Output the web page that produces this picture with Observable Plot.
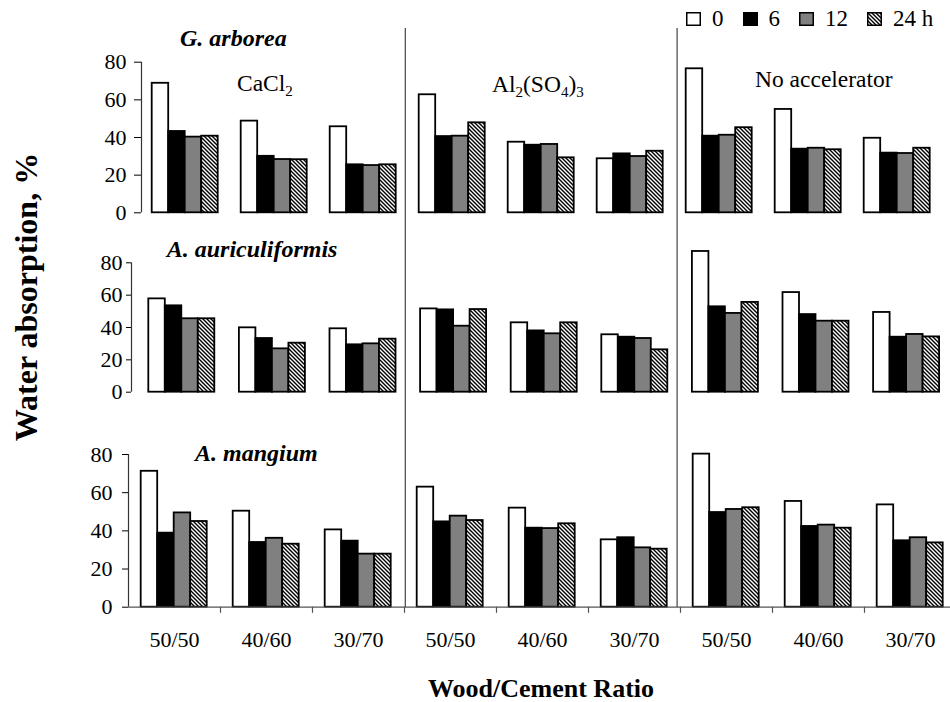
<!DOCTYPE html>
<html>
<head>
<meta charset="utf-8">
<script src="https://cdn.jsdelivr.net/npm/d3@7"></script>
<script src="https://cdn.jsdelivr.net/npm/@observablehq/plot@0.6"></script>
<style>
html, body { margin: 0; padding: 0; background: #fff; overflow: hidden; }
#chart { position: relative; width: 950px; height: 702px; overflow: hidden; background: #fff;
  font-family: "Liberation Serif", "Times New Roman", serif; color: #000; }
#legend { position: absolute; left: 686px; top: 7px; display: flex; align-items: center;
  font-size: 23px; line-height: 23px; white-space: nowrap; }
#legend .item { display: flex; align-items: center; margin-right: 19px; }
#legend svg { margin-right: 11px; display: block; }
</style>
</head>
<body>
<svg width="0" height="0" style="position:absolute">
  <defs>
    <pattern id="hatch" patternUnits="userSpaceOnUse" width="4" height="4">
      <rect width="4" height="4" fill="#fff"/>
      <path d="M-1,-1L5,5M3,-1L5,1M-1,3L1,5" stroke="#000" stroke-width="1.4"/>
    </pattern>
  </defs>
</svg>
<div id="chart"><div id="legend"></div></div>
<script>
// ---------- data ----------
const species = ["G. arborea", "A. auriculiformis", "A. mangium"];
const accelerators = ["CaCl2", "Al2(SO4)3", "No accelerator"];
const ratios = ["50/50", "40/60", "30/70"];
const times = ["0", "6", "12", "24 h"];
const yTicks = [0, 20, 40, 60, 80];

// values in order: CaCl2 (50/50, 40/60, 30/70), Al2(SO4)3 (...), No accelerator (...)
const arborea_0  = [68.8, 48.7, 45.7, 62.7, 37.5, 28.7, 76.5, 54.9, 39.6];
const arborea_6  = [43.2, 30.0, 25.5, 40.5, 35.9, 31.3, 40.7, 33.8, 31.7];
const arborea_12 = [40.2, 28.3, 25.1, 40.7, 36.3, 29.9, 41.2, 34.3, 31.5];
const arborea_24 = [40.7, 28.2, 25.5, 47.8, 29.2, 32.7, 45.2, 33.5, 34.3];

const auri_0  = [57.7, 39.8, 39.2, 51.5, 42.9, 35.5, 87.0, 61.6, 49.3];
const auri_6  = [53.4, 33.2, 29.3, 50.9, 37.9, 34.0, 52.8, 48.0, 34.0];
const auri_12 = [45.4, 26.8, 29.9, 40.8, 36.1, 33.2, 48.7, 43.9, 35.7];
const auri_24 = [45.4, 30.3, 32.8, 51.1, 42.9, 26.2, 55.5, 43.9, 34.2];

const mangium_0  = [71.2, 50.3, 40.5, 62.9, 51.9, 35.3, 80.2, 55.4, 53.6];
const mangium_6  = [38.8, 33.9, 34.6, 44.7, 41.4, 36.4, 49.6, 42.3, 34.8];
const mangium_12 = [49.4, 36.1, 27.8, 47.7, 41.2, 31.1, 51.2, 43.0, 36.4];
const mangium_24 = [44.9, 33.0, 27.8, 45.4, 43.7, 30.4, 52.1, 41.4, 33.7];

const seriesBySpecies = [
  [arborea_0, arborea_6, arborea_12, arborea_24],
  [auri_0, auri_6, auri_12, auri_24],
  [mangium_0, mangium_6, mangium_12, mangium_24]
];

// ---------- styling / layout ----------
const fills = ["#ffffff", "#000000", "#808080", "url(#hatch)"];
const W = 956, H = 702, barW = 16.5;
const font = '"Liberation Serif", "Times New Roman", serif';
const panels = [
  {left: 141, step: 89,   offset: 10.7, top: 61.7, base: 212.3, tickSize: 7, tickPadding: 8,
   label: {x: 180, y: 45.7}},
  {left: 131, step: 90.6, offset: 17.3, top: 262.3, base: 391.7, tickSize: 5, tickPadding: 4,
   label: {x: 166.7, y: 257}, separators: true},
  {left: 128, step: 92,   offset: 12.7, top: 454, base: 606.7, tickSize: 6, tickPadding: 10,
   label: {x: 195, y: 460.5}, xAxis: true}
];
const sepTop = 28, sepBottom = 607;
const accLabels = [{x: 237, y: 91}, {x: 492, y: 92}, {x: 755, y: 87}];

const groupKeys = accelerators.flatMap(a => ratios.map(r => a + "|" + r));

const chart = document.getElementById("chart");

panels.forEach((p, si) => {
  const rows = [];
  seriesBySpecies[si].forEach((vals, ti) => {
    vals.forEach((v, gi) => rows.push({group: groupKeys[gi], time: times[ti], value: v}));
  });
  const marks = times.map((t, j) => Plot.barY(rows.filter(d => d.time === t), {
    x: "group", y: "value", fill: fills[j], stroke: "#000", strokeWidth: 1.8,
    insetLeft: p.offset + j * barW,
    insetRight: p.step - p.offset - (j + 1) * barW
  }));
  marks.push(Plot.ruleX([groupKeys[0]], {dx: -p.step / 2, stroke: "#333", strokeWidth: 1.2}));
  if (p.xAxis) {
    marks.push(Plot.ruleY([0], {stroke: "#555", strokeWidth: 1.2}));
    marks.push(Plot.ruleX(groupKeys.slice(0, 8), {x: d => d, dx: p.step / 2, y1: 0, y2: -3.2, stroke: "#555", strokeWidth: 1.2}));
  }
  if (p.separators) {
    marks.push(Plot.ruleX([groupKeys[2], groupKeys[5]], {
      x: d => d, dx: p.step / 2 + 2, stroke: "#444", strokeWidth: 1.2,
      insetTop: -(p.top - sepTop), insetBottom: -(sepBottom - p.base)
    }));
  }
  const svg = Plot.plot({
    width: W, height: H,
    marginLeft: p.left, marginRight: W - (p.left + 9 * p.step),
    marginTop: p.top, marginBottom: H - p.base,
    style: {background: "none", maxWidth: "none", fontFamily: font, fontSize: "22px",
            color: "#000", position: "absolute", left: "0px", top: "0px", overflow: "visible"},
    x: {domain: groupKeys, padding: 0, round: false,
        axis: p.xAxis ? "bottom" : null, tickSize: 0, tickPadding: 24,
        tickFormat: k => k.split("|")[1], label: null},
    y: {domain: [0, 80], ticks: yTicks, tickSize: p.tickSize, tickPadding: p.tickPadding, label: null},
    marks
  });
  chart.appendChild(svg);
});

// ---------- annotations ----------
const ov = d3.select(chart).append("svg")
  .attr("width", 950).attr("height", 702)
  .style("position", "absolute").style("left", "0px").style("top", "0px")
  .style("font-family", font);

panels.forEach((p, si) => {
  ov.append("text").attr("x", p.label.x).attr("y", p.label.y)
    .attr("font-size", 24).attr("font-weight", "bold").attr("font-style", "italic")
    .text(species[si]);
});

accelerators.forEach((a, i) => {
  const t = ov.append("text").attr("x", accLabels[i].x).attr("y", accLabels[i].y).attr("font-size", 23.5);
  const parts = a.match(/\d+|\D+/g);
  let sub = false;
  parts.forEach(part => {
    const isNum = /^\d+$/.test(part);
    const ts = t.append("tspan").text(part);
    if (isNum && !sub) { ts.attr("dy", 5).attr("font-size", 15); sub = true; }
    else if (isNum) { ts.attr("font-size", 15); }
    else if (sub) { ts.attr("dy", -5); sub = false; }
  });
});

ov.append("text")
  .attr("transform", "translate(36.5,297) rotate(-90)")
  .attr("text-anchor", "middle").attr("font-size", 32).attr("font-weight", "bold")
  .text("Water absorption, %");

ov.append("text")
  .attr("x", 541).attr("y", 697).attr("text-anchor", "middle")
  .attr("font-size", 26).attr("font-weight", "bold")
  .text("Wood/Cement Ratio");

// legend
const legend = d3.select("#legend");
chart.appendChild(document.getElementById("legend"));
times.forEach((t, j) => {
  const item = legend.append("div").attr("class", "item");
  const s = item.append("svg").attr("width", 15).attr("height", 14);
  s.append("rect").attr("x", 0.75).attr("y", 0.75).attr("width", 13.5).attr("height", 12.5)
    .attr("fill", fills[j]).attr("stroke", "#000").attr("stroke-width", 1.5);
  item.append("span").text(t);
});
</script>
</body>
</html>
